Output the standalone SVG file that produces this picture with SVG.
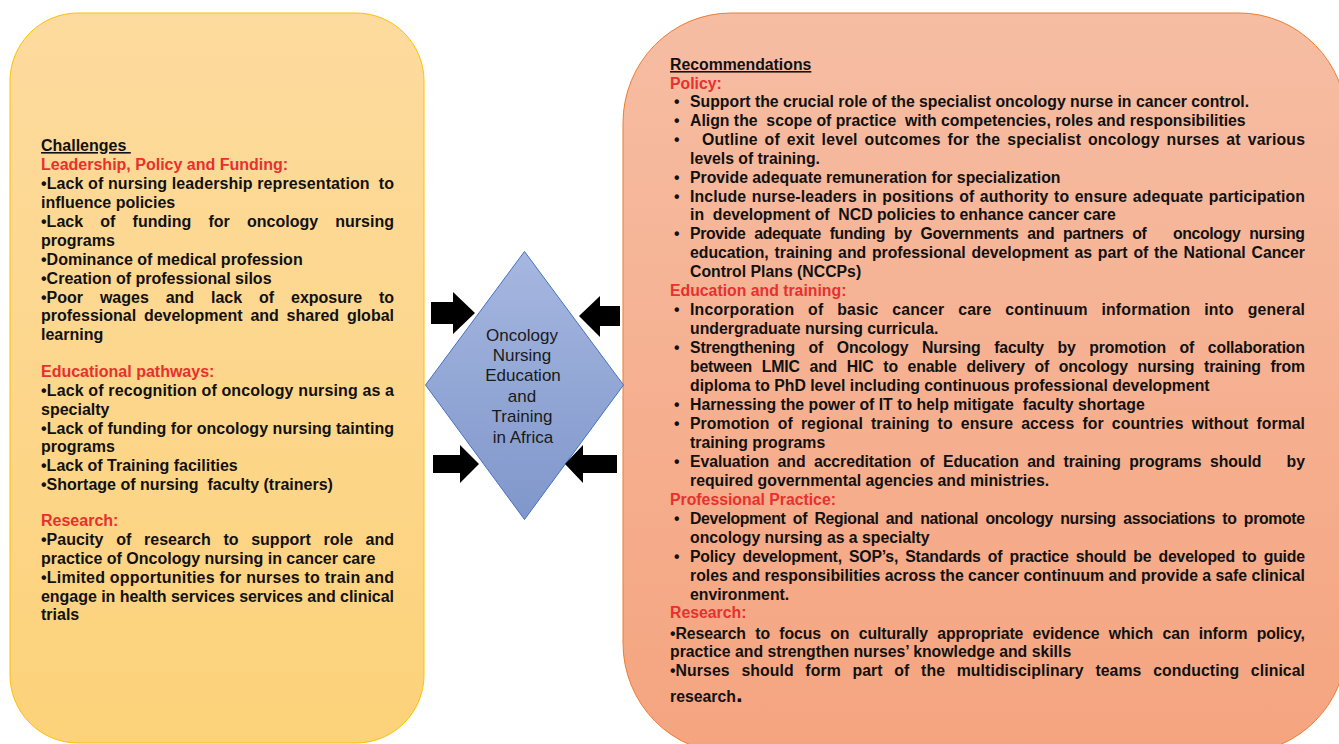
<svg xmlns="http://www.w3.org/2000/svg" width="1339" height="744" viewBox="0 0 1339 744">
<defs>
<linearGradient id="gY" x1="0" y1="0" x2="0" y2="1"><stop offset="0" stop-color="#FDDB9E"/><stop offset="1" stop-color="#FCD27A"/></linearGradient>
<linearGradient id="gO" x1="0" y1="0" x2="0" y2="1"><stop offset="0" stop-color="#F6BDA3"/><stop offset="1" stop-color="#F5A47F"/></linearGradient>
<linearGradient id="gB" x1="0" y1="0" x2="0" y2="1"><stop offset="0" stop-color="#A6B7E0"/><stop offset="1" stop-color="#8097CB"/></linearGradient>
</defs>
<style>
.t{font-family:"Liberation Sans",Arial,sans-serif;font-weight:bold;font-size:16px;fill:#111}
.n{font-family:"Liberation Sans Narrow","Arial Narrow","Liberation Sans",sans-serif;font-weight:bold;font-size:15.8px;fill:#111}
.r{fill:#E8302E}
.c{font-family:"Liberation Sans",Arial,sans-serif;font-size:17px;fill:#1a1a1a;text-anchor:middle}
.arr{fill:#000}
</style>
<rect width="1339" height="744" fill="#fff"/>

<g id="challenges">
<rect x="10" y="13" width="414" height="730" rx="68" ry="68" fill="url(#gY)" stroke="#FFC000" stroke-width="1"/>
<text class="t" x="41" y="151" text-decoration="underline" xml:space="preserve">Challenges </text>
<text class="t r" x="41" y="170">Leadership, Policy and Funding:</text>
<text class="t" x="41" y="189" textLength="353" lengthAdjust="spacing" xml:space="preserve">•Lack of nursing leadership representation  to</text>
<text class="t" x="41" y="208">influence policies</text>
<text class="t" y="227"><tspan x="41">•Lack</tspan><tspan x="100.3">of</tspan><tspan x="132.6">funding</tspan><tspan x="208.5">for</tspan><tspan x="247">oncology</tspan><tspan x="335.3">nursing</tspan></text>
<text class="t" x="41" y="246">programs</text>
<text class="t" x="41" y="265">•Dominance of medical profession</text>
<text class="t" x="41" y="284">•Creation of professional silos</text>
<text class="t" y="303"><tspan x="41">•Poor</tspan><tspan x="99.9">wages</tspan><tspan x="165.7">and</tspan><tspan x="211">lack</tspan><tspan x="259">of</tspan><tspan x="291">exposure</tspan><tspan x="379">to</tspan></text>
<text class="t" y="321"><tspan x="41">professional</tspan><tspan x="143.9">development</tspan><tspan x="250.4">and</tspan><tspan x="286.6">shared</tspan><tspan x="346.9">global</tspan></text>
<text class="t" x="41" y="340">learning</text>
<text class="t r" x="41" y="377">Educational pathways:</text>
<text class="t" x="41" y="396" textLength="353" lengthAdjust="spacing">•Lack of recognition of oncology nursing as a</text>
<text class="t" x="41" y="415">specialty</text>
<text class="t" x="41" y="434" textLength="353" lengthAdjust="spacing">•Lack of funding for oncology nursing tainting</text>
<text class="t" x="41" y="452">programs</text>
<text class="t" x="41" y="471">•Lack of Training facilities</text>
<text class="t" x="41" y="490" xml:space="preserve">•Shortage of nursing  faculty (trainers)</text>
<text class="t r" x="41" y="526">Research:</text>
<text class="t" y="545"><tspan x="41">•Paucity</tspan><tspan x="116.2">of</tspan><tspan x="144">research</tspan><tspan x="223.4">to</tspan><tspan x="251.2">support</tspan><tspan x="323.5">role</tspan><tspan x="365.5">and</tspan></text>
<text class="t" x="41" y="564">practice of Oncology nursing in cancer care</text>
<text class="t" x="41" y="583" textLength="353" lengthAdjust="spacing">•Limited opportunities for nurses to train and</text>
<text class="t" x="41" y="602" textLength="353" lengthAdjust="spacing">engage in health services services and clinical</text>
<text class="t" x="41" y="620">trials</text>
</g>

<g id="recommendations">
<rect x="623" y="13" width="724" height="740" rx="108" ry="110" fill="url(#gO)" stroke="#ED7D31" stroke-width="1"/>
<text class="n" x="670" y="70" text-decoration="underline">Recommendations</text>
<text class="n r" x="670" y="89">Policy:</text>
<g class="n">
<text x="674" y="107">•</text><text x="690" y="107">Support the crucial role of the specialist oncology nurse in cancer control.</text>
<text x="674" y="126">•</text><text x="690" y="126" xml:space="preserve">Align the  scope of practice  with competencies, roles and responsibilities</text>
<text x="674" y="145">•</text><text x="702" y="145" textLength="603" lengthAdjust="spacing" word-spacing="2.3">Outline of exit level outcomes for the specialist oncology nurses at various</text>
<text x="690" y="164">levels of training.</text>
<text x="674" y="183">•</text><text x="690" y="183">Provide adequate remuneration for specialization</text>
<text x="674" y="202">•</text><text x="690" y="202" textLength="615" lengthAdjust="spacing" word-spacing="1">Include nurse-leaders in positions of authority to ensure adequate participation</text>
<text x="690" y="220" xml:space="preserve">in  development of  NCD policies to enhance cancer care</text>
<text x="674" y="239">•</text><text x="690" y="239" textLength="615" lengthAdjust="spacing" word-spacing="4.8" xml:space="preserve">Provide adequate funding by Governments and partners of   oncology nursing</text>
<text x="690" y="258" textLength="615" lengthAdjust="spacing" word-spacing="1.5">education, training and professional development as part of the National Cancer</text>
<text x="690" y="277">Control Plans (NCCPs)</text>
</g>
<text class="n r" x="670" y="296">Education and training:</text>
<g class="n">
<text x="674" y="315">•</text><text x="690" y="315" textLength="615" lengthAdjust="spacing" word-spacing="9.2">Incorporation of basic cancer care continuum information into general</text>
<text x="690" y="334">undergraduate nursing curricula.</text>
<text x="674" y="353">•</text><text x="690" y="353" textLength="615" lengthAdjust="spacing" word-spacing="9.4">Strengthening of Oncology Nursing faculty by promotion of collaboration</text>
<text x="690" y="372" textLength="615" lengthAdjust="spacing" word-spacing="5.5">between LMIC and HIC to enable delivery of oncology nursing training from</text>
<text x="690" y="391">diploma to PhD level including continuous professional development</text>
<text x="674" y="410">•</text><text x="690" y="410" xml:space="preserve">Harnessing the power of IT to help mitigate  faculty shortage</text>
<text x="674" y="429">•</text><text x="690" y="429" textLength="615" lengthAdjust="spacing" word-spacing="3.7">Promotion of regional training to ensure access for countries without formal</text>
<text x="690" y="448">training programs</text>
<text x="674" y="467">•</text><text x="690" y="467" textLength="615" lengthAdjust="spacing" word-spacing="4.1" xml:space="preserve">Evaluation and accreditation of Education and training programs should   by</text>
<text x="690" y="486">required governmental agencies and ministries.</text>
</g>
<text class="n r" x="670" y="505">Professional Practice:</text>
<g class="n">
<text x="674" y="524">•</text><text x="690" y="524" textLength="615" lengthAdjust="spacing" word-spacing="3.3">Development of Regional and national oncology nursing associations to promote</text>
<text x="690" y="543">oncology nursing as a specialty</text>
<text x="674" y="562">•</text><text x="690" y="562" textLength="615" lengthAdjust="spacing" word-spacing="3">Policy development, SOP’s, Standards of practice should be developed to guide</text>
<text x="690" y="581" textLength="615" lengthAdjust="spacing">roles and responsibilities across the cancer continuum and provide a safe clinical</text>
<text x="690" y="600">environment.</text>
</g>
<text class="n r" x="670" y="618">Research:</text>
<g class="n">
<text x="670" y="639" textLength="635" lengthAdjust="spacing" word-spacing="5">•Research to focus on culturally appropriate evidence which can inform policy,</text>
<text x="670" y="657">practice and strengthen nurses’ knowledge and skills</text>
<text x="670" y="676" textLength="635" lengthAdjust="spacing" word-spacing="7.2">•Nurses should form part of the multidisciplinary teams conducting clinical</text>
<text x="670" y="702">research<tspan font-size="24">.</tspan></text>
</g>
</g>

<g id="center">
<polygon points="524.5,251.5 623.5,385 524.5,519.5 425.5,385" fill="url(#gB)" stroke="#4472C4" stroke-width="1"/>
<text class="c" x="522" y="341">Oncology</text>
<text class="c" x="522" y="361">Nursing</text>
<text class="c" x="523" y="381">Education</text>
<text class="c" x="522" y="402">and</text>
<text class="c" x="522" y="422">Training</text>
<text class="c" x="523" y="443">in Africa</text>
</g>

<g id="connectors">
<polygon class="arr" points="431,302 453,302 453,292 475,313 453,334 453,324 431,324"/>
<polygon class="arr" points="620,306 600,306 600,296 579,316 600,337 600,326 620,326"/>
<polygon class="arr" points="433,455 460,455 460,445 479,464 460,483 460,473 433,473"/>
<polygon class="arr" points="617,455 583,455 583,445 565,464 583,483 583,473 617,473"/>
</g>
</svg>
